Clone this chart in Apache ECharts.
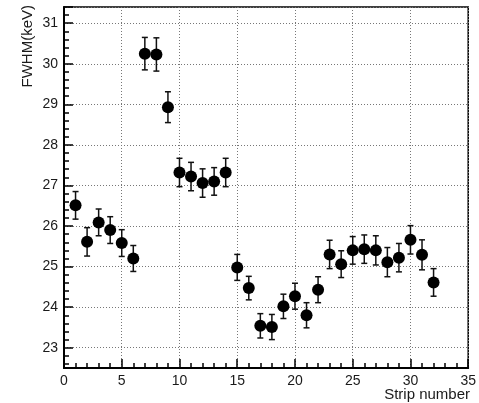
<!DOCTYPE html>
<html>
<head>
<meta charset="utf-8">
<script src="https://cdn.jsdelivr.net/npm/echarts@6/dist/echarts.min.js"></script>
<style>
  html, body { margin: 0; padding: 0; background: #fff; }
  #chart { width: 479px; height: 403px; }
</style>
</head>
<body>
<div id="chart"></div>
<script>
  // strip index and measured FWHM (keV) with its error
  const strips = [1, 2, 3, 4, 5, 6, 7, 8, 9, 10, 11, 12, 13, 14, 15, 16,
                  17, 18, 19, 20, 21, 22, 23, 24, 25, 26, 27, 28, 29, 30, 31, 32]
  const fwhm = [26.51, 25.61, 26.09, 25.90, 25.58, 25.20, 30.25, 30.23,
                28.93, 27.32, 27.22, 27.06, 27.10, 27.32, 24.98, 24.47,
                23.54, 23.51, 24.02, 24.27, 23.80, 24.43, 25.30, 25.06,
                25.40, 25.43, 25.40, 25.11, 25.22, 25.66, 25.29, 24.61]
  const fwhmErr = [0.34, 0.35, 0.33, 0.33, 0.33, 0.32, 0.40, 0.41,
                   0.38, 0.35, 0.35, 0.35, 0.34, 0.35, 0.32, 0.29,
                   0.30, 0.31, 0.30, 0.32, 0.31, 0.32, 0.35, 0.33,
                   0.34, 0.35, 0.36, 0.36, 0.35, 0.35, 0.37, 0.34]

  const xTitle = 'Strip number'
  const yTitle = 'FWHM(keV)'

  const chart = echarts.init(document.getElementById('chart'))

  const points = strips.map((s, i) => [s, fwhm[i]])
  const bars = strips.map((s, i) => [s, fwhm[i] - fwhmErr[i], fwhm[i] + fwhmErr[i]])

  const labelFont = {
    color: '#1a1a1a',
    fontFamily: 'Liberation Sans, Arial, sans-serif',
    fontSize: 14
  }
  const dotted = {
    show: true,
    lineStyle: { color: '#777', width: 1, type: [1, 2] }
  }

  chart.setOption({
    animation: false,
    grid: {
      left: 64,
      top: 7,
      right: 8,
      bottom: 35,
      show: true,
      borderColor: '#000',
      borderWidth: 1.5
    },
    xAxis: {
      type: 'value',
      min: 0,
      max: 35,
      interval: 5,
      axisLine: { show: true, onZero: false, lineStyle: { color: '#000', width: 2 } },
      axisTick: { show: true, inside: true, length: 9, lineStyle: { color: '#000', width: 1.5 } },
      minorTick: { show: true, splitNumber: 5, length: 5, lineStyle: { color: '#000', width: 1.5 } },
      axisLabel: Object.assign({ margin: 6 }, labelFont),
      splitLine: dotted
    },
    yAxis: {
      type: 'value',
      min: 22.5,
      max: 31.4,
      minInterval: 1,
      maxInterval: 1,
      axisLine: { show: true, onZero: false, lineStyle: { color: '#000', width: 2 } },
      axisTick: { show: true, inside: true, length: 9, lineStyle: { color: '#000', width: 1.5 } },
      minorTick: { show: true, splitNumber: 5, length: 5, lineStyle: { color: '#000', width: 1.5 } },
      axisLabel: Object.assign({
        margin: 6,
        showMinLabel: false,
        showMaxLabel: false,
        formatter: v => (Number.isInteger(v) ? String(v) : '')
      }, labelFont),
      splitLine: dotted
    },
    graphic: [
      {
        type: 'text',
        x: 28,
        y: 5,
        rotation: Math.PI / 2,
        style: {
          text: yTitle,
          fill: '#1a1a1a',
          font: '15px Liberation Sans, Arial, sans-serif',
          align: 'right',
          verticalAlign: 'middle'
        }
      },
      {
        type: 'text',
        right: 9,
        bottom: 1,
        style: {
          text: xTitle,
          fill: '#1a1a1a',
          font: '15px Liberation Sans, Arial, sans-serif'
        }
      }
    ],
    series: [
      {
        type: 'custom',
        name: 'error',
        data: bars,
        renderItem (params, api) {
          const lo = api.coord([api.value(0), api.value(1)])
          const hi = api.coord([api.value(0), api.value(2)])
          const cap = 3
          const style = { stroke: '#111', lineWidth: 1.5 }
          return {
            type: 'group',
            children: [
              { type: 'line', shape: { x1: lo[0], y1: lo[1], x2: hi[0], y2: hi[1] }, style },
              { type: 'line', shape: { x1: lo[0] - cap, y1: lo[1], x2: lo[0] + cap, y2: lo[1] }, style },
              { type: 'line', shape: { x1: hi[0] - cap, y1: hi[1], x2: hi[0] + cap, y2: hi[1] }, style }
            ]
          }
        },
        z: 2
      },
      {
        type: 'scatter',
        name: 'FWHM',
        data: points,
        symbol: 'circle',
        symbolSize: 12,
        itemStyle: { color: '#000', opacity: 1 },
        z: 3
      }
    ]
  })
</script>
</body>
</html>
